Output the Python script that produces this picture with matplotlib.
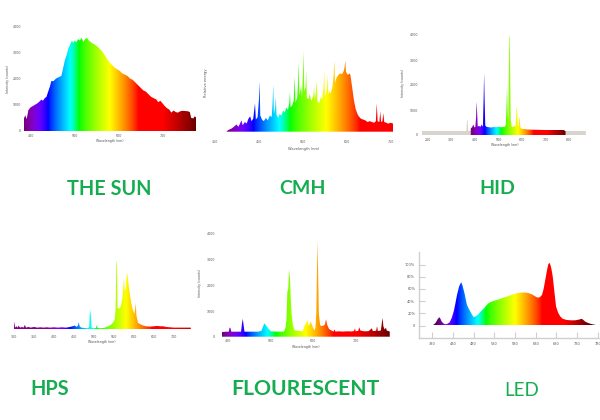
import matplotlib
matplotlib.use("Agg")
import matplotlib.pyplot as plt
from matplotlib.patches import Polygon
import numpy as np

# ---- data ----
sun_nm = [385, 388, 391, 395, 400, 405, 410, 415, 420, 425, 428, 432, 436, 440, 444, 447,
          452, 458, 464, 470, 474, 478, 482, 486, 490, 494, 497, 500, 504, 508, 512, 516,
          520, 524, 528, 532, 536, 540, 545, 550, 556, 562, 568, 574, 580, 586, 592, 597,
          602, 608, 614, 620, 626, 632, 638, 644, 650, 656, 662, 668, 674, 680, 686, 690,
          695, 700, 705, 710, 715, 720, 725, 730, 735, 740, 745, 752, 758, 762, 765, 770,
          773, 776]
sun_val = [480, 600, 450, 800, 900, 950, 1000, 1050, 1120, 1200, 1150, 1250, 1300, 1500, 1700, 1900,
           1900, 2000, 2050, 2100, 2400, 2700, 2900, 3150, 3300, 3450, 3350, 3450, 3380, 3500, 3450, 3550,
           3400, 3500, 3560, 3450, 3400, 3350, 3300, 3250, 3150, 3050, 2900, 2750, 2600, 2500, 2400, 2350,
           2300, 2200, 2150, 2100, 2000, 1950, 1850, 1750, 1650, 1550, 1500, 1400, 1300, 1250, 1200, 1100,
           1150, 1050, 950, 870, 820, 700, 780, 720, 700, 750, 770, 760, 750, 720, 500, 480,
           560, 520]

cmh_nm = [376, 380, 388, 395, 399, 403, 407, 410, 413, 418, 422, 426, 430, 433, 437, 441, 443, 447,
          450, 451.5, 453, 457, 461, 466, 470, 475, 479, 481, 482.5, 484, 487, 488.5, 490, 494, 497,
          501, 505, 509, 512, 516, 519, 520.5, 522, 526, 529, 530, 531.5, 533, 537, 539, 540.5, 542,
          546, 548, 550, 551.5, 553, 556, 557.5, 559, 563, 565, 569, 572, 574, 575.5, 577, 580, 581.5,
          583, 587, 591, 594, 597, 598.5, 600, 603, 605, 606.5, 608, 611, 613, 617, 620, 621.5, 623,
          626, 628, 631, 635, 639, 643, 645, 646.5, 648, 652, 656, 658, 662, 666, 670, 674, 677, 682,
          687, 692, 697, 702, 707, 712, 716, 718, 720, 724, 726, 728, 731, 733, 735, 740, 744, 750,
          755, 760, 765]
cmh_val = [0.0, 0.02, 0.04, 0.07, 0.09, 0.06, 0.10, 0.14, 0.08, 0.12, 0.10, 0.16, 0.19, 0.13, 0.16, 0.35, 0.15, 0.18,
           0.40, 0.62, 0.20, 0.15, 0.13, 0.17, 0.14, 0.20, 0.18, 0.35, 0.58, 0.22, 0.30, 0.43, 0.21, 0.17, 0.22,
           0.20, 0.26, 0.24, 0.30, 0.27, 0.35, 0.49, 0.30, 0.33, 0.38, 0.50, 0.68, 0.36, 0.42, 0.60, 0.86, 0.45,
           0.56, 0.42, 0.70, 1.00, 0.50, 0.55, 0.76, 0.42, 0.40, 0.47, 0.38, 0.42, 0.45, 0.56, 0.40, 0.50, 0.64,
           0.38, 0.35, 0.43, 0.40, 0.55, 0.75, 0.44, 0.48, 0.55, 0.70, 0.46, 0.50, 0.47, 0.55, 0.70, 0.88, 0.60,
           0.66, 0.68, 0.70, 0.72, 0.71, 0.75, 0.80, 0.88, 0.74, 0.70, 0.72, 0.70, 0.55, 0.39, 0.28, 0.22, 0.19, 0.16,
           0.15, 0.14, 0.12, 0.13, 0.12, 0.11, 0.13, 0.35, 0.13, 0.12, 0.25, 0.12, 0.13, 0.23, 0.12, 0.11, 0.10, 0.11,
           0.10, 0.10, 0.10]

hid_nm = [175, 360, 364, 367, 369, 372, 380, 382, 388, 393, 398, 402, 405, 407, 409, 412, 417, 424,
          428, 432, 434, 437, 439, 441, 444, 449, 460, 470, 480, 490, 500, 512, 520, 528, 531, 534,
          536, 538, 540, 542, 544, 546, 548, 550, 552, 556, 562, 567, 572, 574, 576, 578, 580, 583,
          586, 588, 590, 593, 597, 610, 622, 650, 700, 750, 779, 780, 870]
hid_val = [160, 160, 160, 600, 600, 160, 160, 280, 300, 420, 300, 330, 700, 1330, 1000, 340, 360, 330,
           420, 330, 400, 1500, 2470, 1500, 380, 330, 310, 300, 320, 310, 330, 310, 320, 340, 420, 1200,
           1930, 1300, 600, 700, 2500, 3930, 3930, 2200, 600, 330, 320, 360, 340, 600, 1000, 1160, 700, 330,
           500, 730, 600, 300, 250, 240, 220, 210, 200, 200, 200, 160, 160]

hps_nm = [300, 301, 303, 306, 309, 312, 315, 320, 324, 327, 330, 336, 342, 350, 358, 366, 374, 382,
          390, 400, 410, 420, 430, 440, 446, 452, 456, 460, 462, 464, 468, 476, 484, 488, 490, 492,
          494, 498, 505, 507, 509, 515, 523, 530, 536, 542, 547, 552, 554, 556, 557.5, 559, 563, 567,
          571, 573, 575, 577, 580, 582, 584, 587, 590, 593, 597, 601, 603, 604.5, 606, 610, 616, 623,
          630, 640, 650, 657, 665, 673, 680, 690, 700, 720, 742]
hps_val = [0.02, 0.11, 0.02, 0.04, 0.02, 0.05, 0.02, 0.03, 0.02, 0.06, 0.02, 0.03, 0.02, 0.03, 0.02, 0.025, 0.02, 0.025,
           0.02, 0.025, 0.02, 0.025, 0.02, 0.03, 0.04, 0.05, 0.03, 0.05, 0.10, 0.04, 0.02, 0.015, 0.01, 0.03, 0.29, 0.20,
           0.02, 0.01, 0.015, 0.06, 0.015, 0.01, 0.015, 0.025, 0.04, 0.06, 0.09, 0.14, 0.30, 1.00, 0.95, 0.30, 0.30, 0.33,
           0.45, 0.60, 0.75, 0.55, 0.62, 0.82, 0.78, 0.62, 0.50, 0.38, 0.28, 0.22, 0.30, 0.38, 0.20, 0.09, 0.07, 0.05,
           0.04, 0.035, 0.04, 0.045, 0.04, 0.04, 0.03, 0.025, 0.02, 0.02, 0.02]

fl_nm = [384, 395, 401, 403, 405, 407, 430, 432, 434, 436, 438, 470, 478, 483, 485, 490, 495, 500,
         520, 530, 533, 535, 537, 539, 541, 543, 545, 547, 549, 552, 556, 575, 578, 580, 583, 586,
         589, 591, 594, 597, 600, 603, 605, 607, 608.5, 610, 611.5, 613, 616, 620, 624, 627, 630, 633,
         637, 644, 648, 650, 652, 660, 668, 680, 690, 696, 698, 700, 706, 708, 711, 720, 730, 736,
         738, 740, 748, 750, 752, 759, 761, 763, 765, 768, 771, 773, 780]
fl_val = [180, 195, 195, 360, 330, 195, 195, 500, 700, 450, 195, 195, 230, 450, 520, 415, 300, 210,
          195, 200, 260, 380, 700, 1750, 1850, 2620, 2300, 1500, 900, 450, 250, 210, 350, 460, 500, 650,
          420, 480, 590, 450, 330, 250, 350, 900, 2400, 3720, 2400, 900, 450, 410, 440, 460, 680, 450,
          300, 230, 200, 290, 200, 210, 200, 210, 205, 220, 320, 210, 230, 370, 240, 210, 215, 300,
          330, 220, 230, 410, 220, 240, 480, 740, 400, 280, 350, 240, 200]

led_nm = [380, 385, 389, 393, 397, 400, 403, 407, 411, 416, 422, 427, 432, 436, 440, 445, 450, 453,
          458, 461, 464, 468, 472, 476, 480, 485, 490, 495, 500, 505, 511, 517, 527, 537, 549, 561,
          573, 585, 595, 605, 613, 621, 627, 633, 639, 645, 649, 653, 657, 660, 663, 666, 668, 671,
          675, 679, 684, 689, 695, 705, 715, 725, 733, 741, 745, 749, 755, 761, 770, 778, 785]
led_pct = [0, 2, 5, 10, 13.7, 11, 6.5, 3.5, 2, 2.5, 5, 12, 23, 36, 50, 64, 71, 66,
           53, 43, 34, 28, 23, 18, 14, 15, 17.5, 21, 25, 28, 33, 37, 40, 42, 45, 47.5,
           50.5, 53, 54, 54, 53, 51, 48.5, 46, 46, 50, 60, 75, 90, 100, 103, 98, 92, 80,
           55, 31, 21, 15, 11, 9, 8.5, 8.5, 9.5, 11, 9, 6.5, 4.5, 3, 1.5, 0.5, 0]

titles = ["THE SUN", "CMH", "HID", "HPS", "FLOURESCENT", "LED"]

GREEN = '#15ad4f'
TICK = '#555555'
W, H = 600.0, 420.0


def wl_rgb(wl, edge=0.3, outside=None):
    if outside is not None and (wl < 380 or wl > 780):
        return outside
    w = min(max(wl, 380), 780)
    if w < 440:
        r, g, b = -(w - 440) / 60.0, 0.0, 1.0
    elif w < 490:
        r, g, b = 0.0, (w - 440) / 50.0, 1.0
    elif w < 510:
        r, g, b = 0.0, 1.0, -(w - 510) / 20.0
    elif w < 580:
        r, g, b = (w - 510) / 70.0, 1.0, 0.0
    elif w < 645:
        r, g, b = 1.0, -(w - 645) / 65.0, 0.0
    else:
        r, g, b = 1.0, 0.0, 0.0
    if w < 420:
        f = edge + (1 - edge) * (w - 380) / 40.0
    elif w > 700:
        f = edge + (1 - edge) * (780 - w) / 80.0
    else:
        f = 1.0
    return tuple((c * f) ** 0.8 for c in (r, g, b))


def spectrum(ax, wl, val, shift=0.0, scale=1.0, edge=0.3, outside=None):
    x0, x1 = wl[0], wl[-1]
    xs = np.linspace(x0, x1, 500)
    cols = np.array([wl_rgb(shift + scale * x, edge, outside) for x in xs])
    im = ax.imshow(cols[np.newaxis, :, :], extent=(x0, x1, 0, max(val)),
                   aspect='auto', interpolation='bilinear', origin='lower')
    verts = [(x0, 0)] + list(zip(wl, val)) + [(x1, 0)]
    poly = Polygon(verts, closed=True, facecolor='none', edgecolor='none')
    ax.add_patch(poly)
    im.set_clip_path(poly)


def make_ax(fig, left, right, top, bottom):
    ax = fig.add_axes([left / W, 1 - bottom / H, (right - left) / W, (bottom - top) / H])
    for s in ax.spines.values():
        s.set_visible(False)
    ax.tick_params(length=0, labelsize=2.3, labelcolor=TICK, pad=2)
    return ax


fig = plt.figure(figsize=(6, 4.2), dpi=100)
fig.patch.set_facecolor('white')

# the sun
ax = make_ax(fig, 24, 196, 26, 131)
spectrum(ax, sun_nm, sun_val)
ax.set_xlim(385, 776)
ax.set_ylim(0, 4000)
ax.set_xticks([400, 500, 600, 700])
ax.set_yticks([0, 1000, 2000, 3000, 4000])
ax.set_xlabel('Wavelength (nm)', fontsize=2.3, color=TICK, labelpad=1)
ax.set_ylabel('Intensity (counts)', fontsize=2.3, color=TICK, labelpad=2)

# CMH
ax = make_ax(fig, 215, 393, 34.5, 131.7)
spectrum(ax, cmh_nm, cmh_val, shift=67, scale=0.85)
ax.set_xlim(350, 755)
ax.set_ylim(0, 1.2)
ax.set_xticks([350, 450, 550, 650, 750])
ax.set_yticks([])
ax.tick_params(pad=6)
ax.set_xlabel('Wavelength (nm)', fontsize=2.6, color=TICK, labelpad=2)
ax.set_ylabel('Relative energy', fontsize=2.6, color=TICK, labelpad=5)

# HID
ax = make_ax(fig, 420.6, 588.2, 30, 135)
spectrum(ax, hid_nm, hid_val, outside=(0.85, 0.83, 0.80))
ax.set_xlim(170, 880)
ax.set_ylim(0, 4200)
ax.set_xticks([200, 300, 400, 500, 600, 700, 800])
ax.set_yticks([0, 1000, 2000, 3000, 4000])
ax.set_xlabel('Wavelength (nm)', fontsize=2.3, color=TICK, labelpad=1)
ax.set_ylabel('Intensity (counts)', fontsize=2.3, color=TICK, labelpad=3)

# HPS
ax = make_ax(fig, 12, 192, 240, 329)
spectrum(ax, hps_nm, hps_val, edge=0.45)
ax.set_xlim(295, 745)
ax.set_ylim(0, 1.3)
ax.set_xticks([300, 350, 400, 450, 500, 550, 600, 650, 700])
ax.set_yticks([])
ax.tick_params(pad=4)
ax.set_xlabel('Wavelength (nm)', fontsize=2.3, color=TICK, labelpad=1)

# fluorescent
ax = make_ax(fig, 217.7, 394, 228.8, 336.7)
spectrum(ax, fl_nm, fl_val)
ax.set_xlim(375, 790)
ax.set_ylim(0, 4200)
ax.set_xticks([400, 500, 600, 700])
ax.set_yticks([0, 1000, 2000, 3000, 4000])
ax.set_xlabel('Wavelength (nm)', fontsize=2.3, color=TICK, labelpad=1)
ax.set_ylabel('Intensity (counts)', fontsize=2.3, color=TICK, labelpad=3)

# LED
ax = make_ax(fig, 419.3, 600, 252.3, 337.7)
spectrum(ax, led_nm, led_pct, edge=0.05)
ax.set_xlim(349, 785)
ax.set_ylim(-20, 120)
ax.set_xticks(list(range(380, 781, 50)))
ax.set_yticks([0, 20, 40, 60, 80, 100])
ax.set_yticklabels(['0', '20%', '40%', '60%', '80%', '100%'])
for side in ('left', 'bottom'):
    ax.spines[side].set_visible(True)
    ax.spines[side].set_color('#cfcfcf')
    ax.spines[side].set_linewidth(1.0)
ax.tick_params(direction='in', length=4, width=0.8, color='#cfcfcf', labelsize=2.5, pad=3)

# titles
pos = [(109, 189), (302, 189), (497, 189), (50, 389), (305, 389), (522, 390)]
sizes = [14.3, 14.0, 14.0, 14.3, 15.2, 13.5]
for name, (tx, ty), fs in zip(titles, pos, sizes):
    fig.text(tx / W, 1 - ty / H, name, ha='center', va='center', color=GREEN,
             fontsize=fs, fontweight='bold' if name != 'LED' else 'normal',
             family=['Lato', 'DejaVu Sans'])

fig.savefig('out.png', dpi=100, facecolor='white')
